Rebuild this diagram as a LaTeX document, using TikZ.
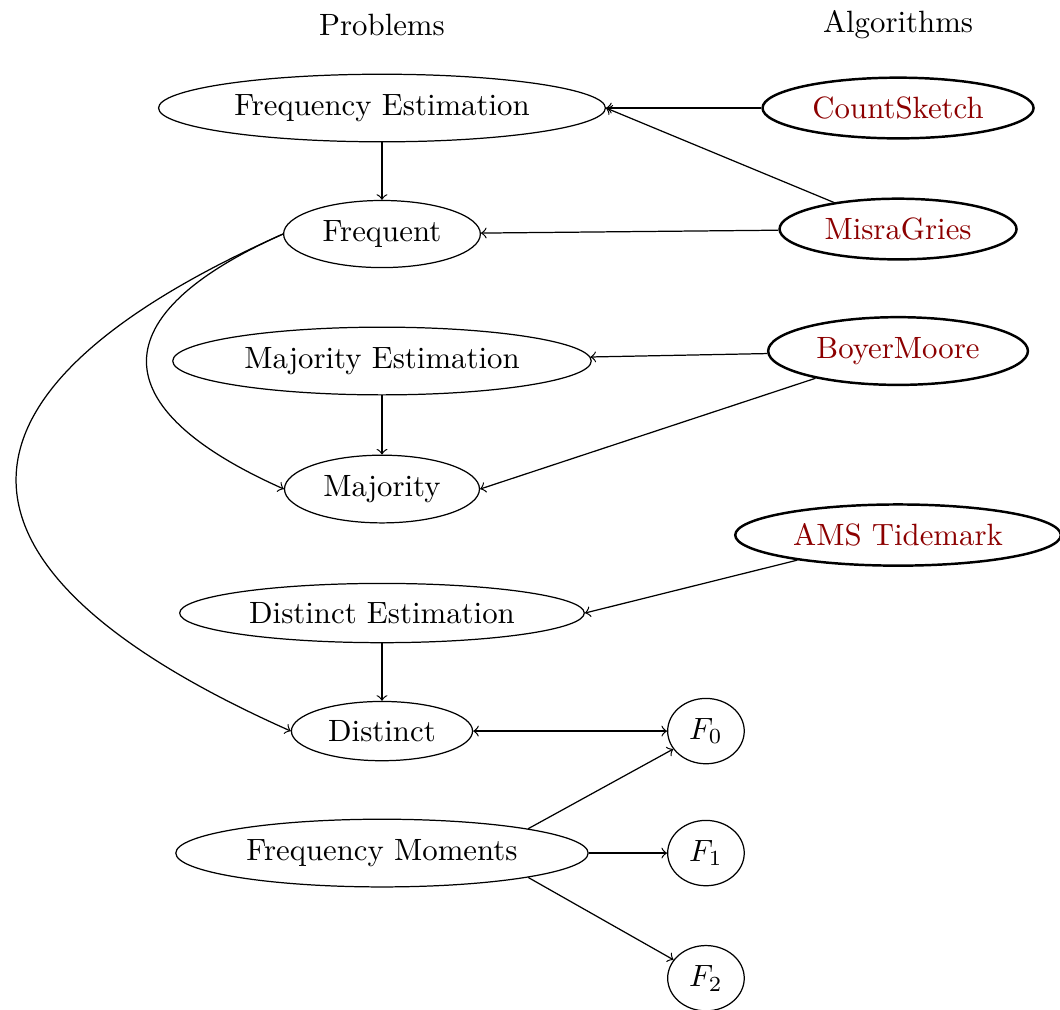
\documentclass[tikz,border=0pt]{standalone}
\usetikzlibrary{shapes.geometric}
\tikzset{
    problem/.style={ellipse, draw},
    algo/.style={ellipse, draw, thick, text=red!55!black},
}

\begin{document}
\begin{tikzpicture}

            \useasboundingbox (-4.359,-10.282) rectangle (7.737,1.2325);

            % Column titles
            \node (probtitle) at (0,0.947) {Problems};
            \node (algotitle) at (5.889,0.947) {Algorithms};

            % Problems
            \node[problem] (freqest) at (0,0) {Frequency Estimation};
            \node[problem] (frequent) at (0,-1.438) {Frequent};
            \node[problem] (majest) at (0,-2.887) {Majority Estimation};
            \node[problem] (majority) at (0,-4.348) {Majority};
            \node[problem] (distest) at (0,-5.763) {Distinct Estimation};
            \node[problem] (distinct) at (0,-7.110) {Distinct};
            \node[problem] (freqmom) at (0,-8.502) {Frequency Moments};

            % Moments
            \node[problem] (f0) at (3.697,-7.110) {$F_0$};
            \node[problem] (f1) at (3.697,-8.502) {$F_1$};
            \node[problem] (f2) at (3.697,-9.930) {$F_2$};

            % Algorithms
            \node[algo] (countsketch) at (5.889,0) {CountSketch};
            \node[algo] (misragries) at (5.889,-1.381) {MisraGries};
            \node[algo] (boyermoore) at (5.889,-2.773) {BoyerMoore};
            \node[algo] (ams) at (5.889,-4.873) {AMS Tidemark};

            % Reductions
            \draw[->] (freqest) -- (frequent);
            \draw[->] (majest) -- (majority);
            \draw[->] (distest) -- (distinct);
            \draw[->] (frequent.west) to[out=204, in=156, looseness=2] (majority.west);
            \draw[->] (frequent.west) to[out=204, in=156, looseness=2.03] (distinct.west);
            \draw[<->] (distinct) -- (f0);
            \draw[->] (freqmom.north east) -- (f0);
            \draw[->] (freqmom) -- (f1);
            \draw[->] (freqmom.south east) -- (f2);

            % Solves
            \draw[->] (countsketch) -- (freqest.east);
            \draw[->] (misragries) -- (freqest.east);
            \draw[->] (misragries) -- (frequent);
            \draw[->] (boyermoore) -- (majest);
            \draw[->] (boyermoore) -- (majority.east);
            \draw[->] (ams) -- (distest.east);

        \end{tikzpicture}
\end{document}
